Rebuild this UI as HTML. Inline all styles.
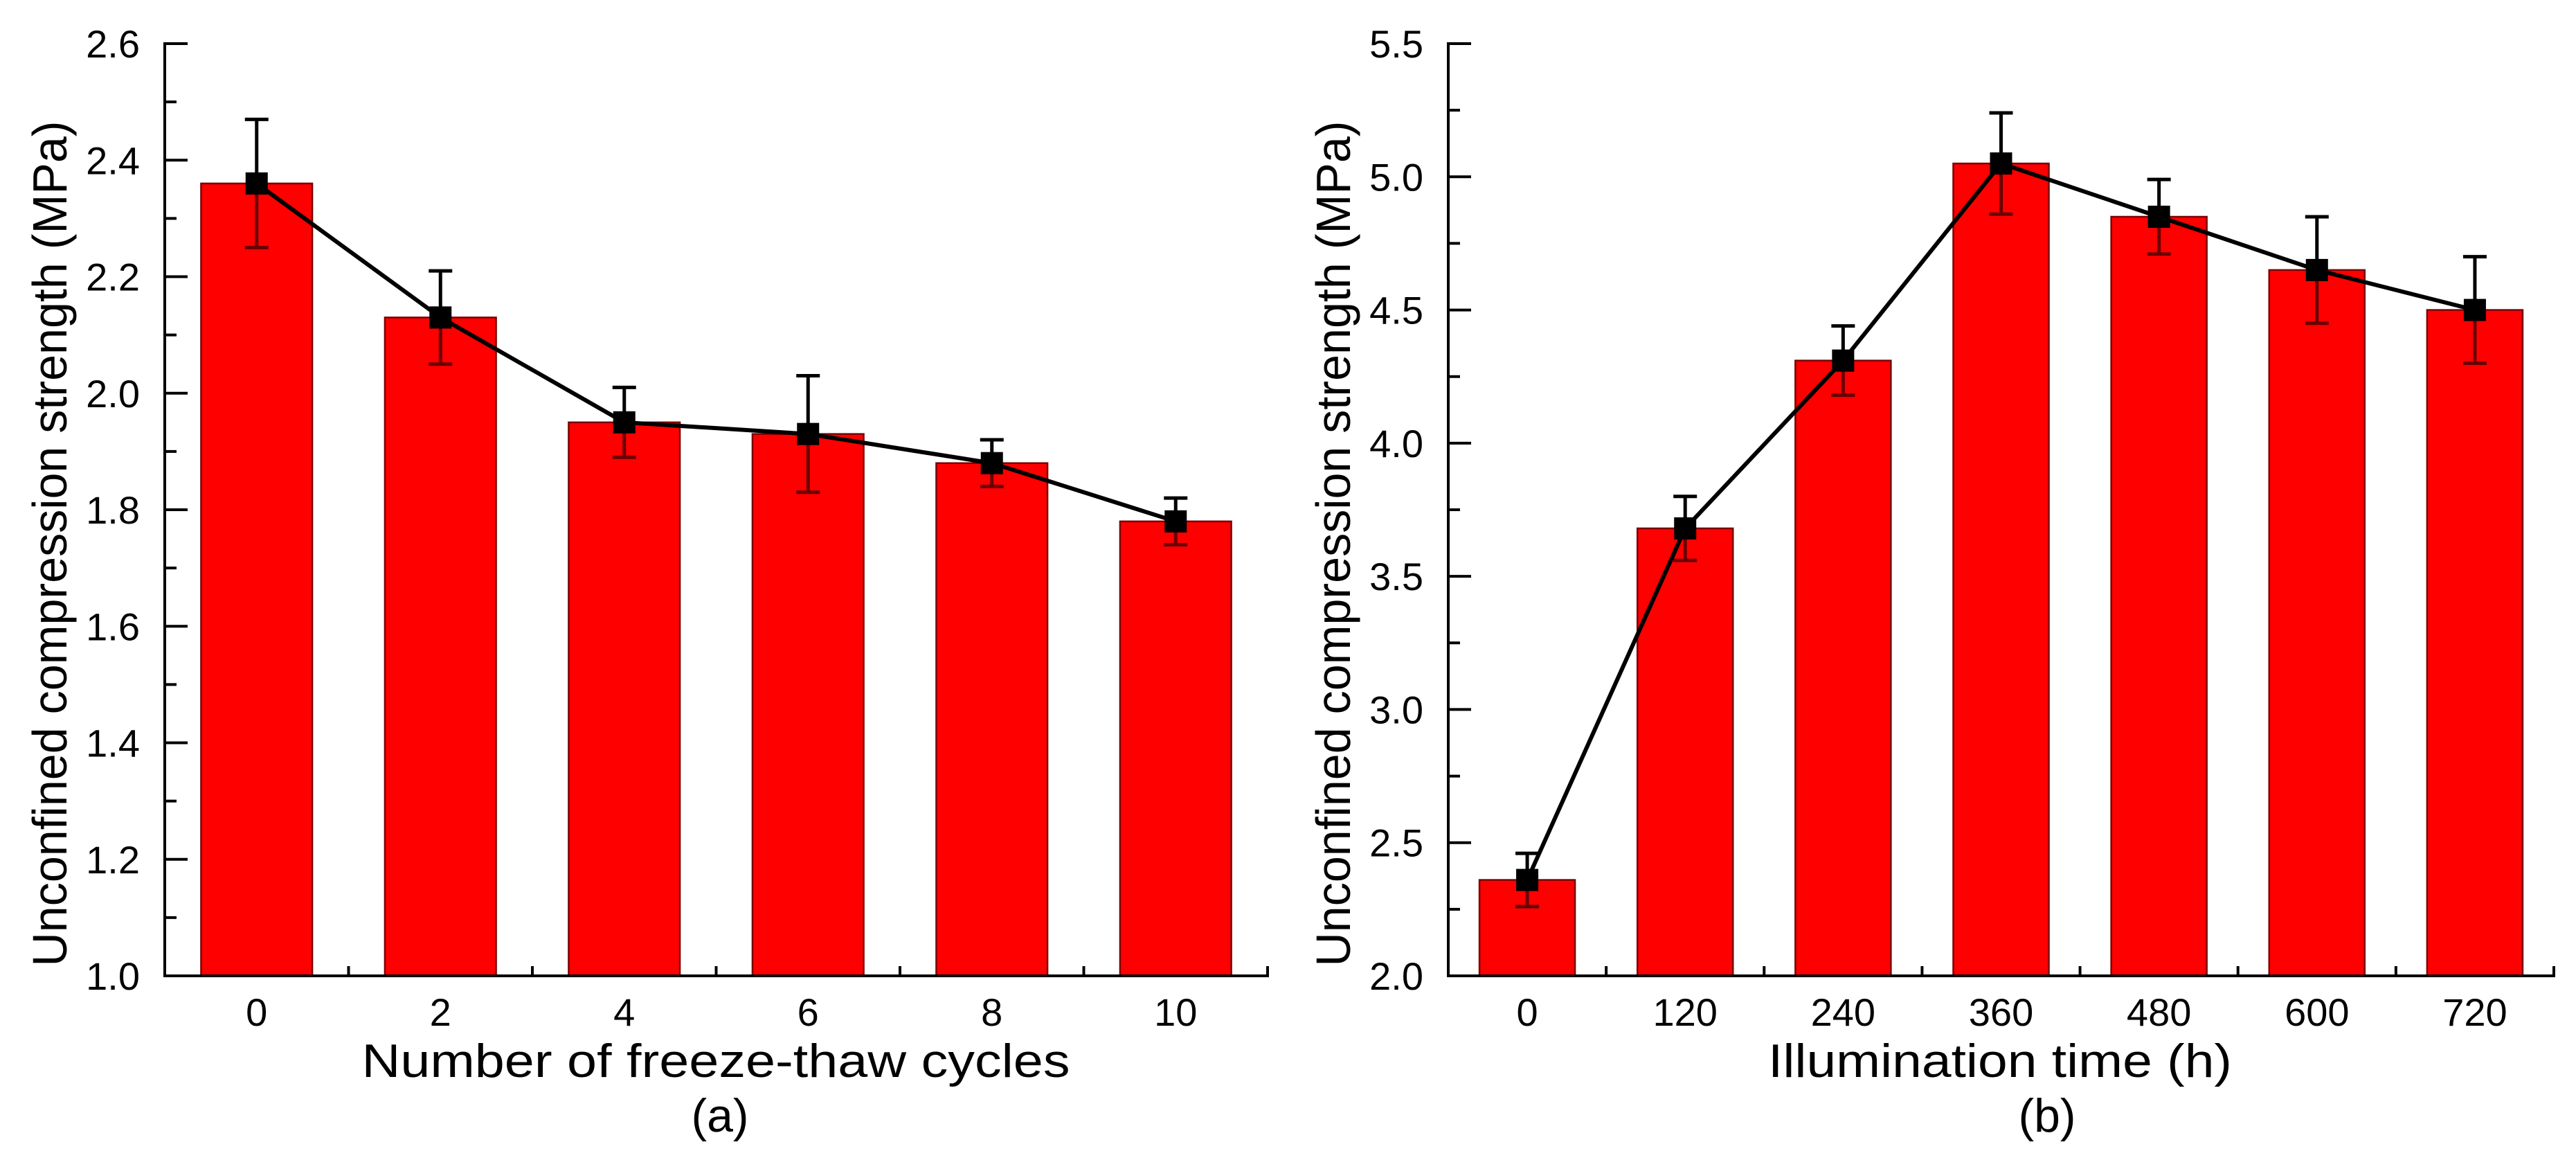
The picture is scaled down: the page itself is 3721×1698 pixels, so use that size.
<!DOCTYPE html>
<html><head><meta charset="utf-8"><style>
html,body{margin:0;padding:0;background:#fff;}
svg{display:block;}
text{font-family:"Liberation Sans",Arial,sans-serif;fill:#000;}
</style></head><body>
<svg id="fig" width="3721" height="1698" viewBox="0 0 3721 1698" xmlns="http://www.w3.org/2000/svg"></svg>
<script>
// Panel (a) data
const catsA = ["0","2","4","6","8","10"];
const valsA = [2.36,2.13,1.95,1.93,1.88,1.78];
const errsA = [0.11,0.08,0.06,0.10,0.04,0.04];
const yTicksA = [1.0,1.2,1.4,1.6,1.8,2.0,2.2,2.4,2.6];
// Panel (b) data
const catsB = ["0","120","240","360","480","600","720"];
const valsB = [2.36,3.68,4.31,5.05,4.85,4.65,4.50];
const errsB = [0.10,0.12,0.13,0.19,0.14,0.20,0.20];
const yTicksB = [2.0,2.5,3.0,3.5,4.0,4.5,5.0,5.5];

const NS="http://www.w3.org/2000/svg";
const svg=document.getElementById('fig');
function mk(tag,attrs,parent){const e=document.createElementNS(NS,tag);for(const k in attrs)e.setAttribute(k,attrs[k]);(parent||svg).appendChild(e);return e;}

function panel(cfg){
  const g=mk('g',{});
  
  
  const {x0,x1,yTop,yBot,yMin,yMax,cats,vals,errs,ticks,minor}=cfg;
  const n=cats.length, step=(x1-x0)/n;
  const xs=i=>x0+step*(i+0.5);
  const ys=v=>yBot-(v-yMin)/(yMax-yMin)*(yBot-yTop);
  const bw=step*0.605;
  cats.forEach((c,i)=>{
    const b=mk('rect',{x:xs(i)-bw/2,y:ys(vals[i]),width:bw,height:yBot-ys(vals[i]),fill:'#ff0000',stroke:'#7a0000','stroke-width':2.5},g);
    
    
  });
  cats.forEach((c,i)=>{
    const x=xs(i),lo=ys(vals[i]-errs[i]),hi=ys(vals[i]+errs[i]),m=ys(vals[i]);
    const eg=mk('g',{},g);
    
    
    mk('line',{x1:x,x2:x,y1:m,y2:lo,stroke:'#6a0000','stroke-width':5},eg);
    mk('line',{x1:x-17,x2:x+17,y1:lo,y2:lo,stroke:'#6a0000','stroke-width':5},eg);
    mk('line',{x1:x,x2:x,y1:m,y2:hi,stroke:'#000','stroke-width':5},eg);
    mk('line',{x1:x-17,x2:x+17,y1:hi,y2:hi,stroke:'#000','stroke-width':5},eg);
  });
  const pts=vals.map((v,i)=>xs(i)+','+ys(v)).join(' ');
  const pl=mk('polyline',{points:pts,fill:'none',stroke:'#000','stroke-width':6},g);
  
  
  cats.forEach((c,i)=>{
    const p=mk('rect',{x:xs(i)-16,y:ys(vals[i])-16,width:32,height:32,fill:'#000'},g);
    
    
  });
  const ax=mk('g',{},g);
  
  
  mk('line',{x1:x0,x2:x0,y1:yTop-2,y2:yBot+2,stroke:'#000','stroke-width':4},ax);
  mk('line',{x1:x0-2,x2:x1+2,y1:yBot,y2:yBot,stroke:'#000','stroke-width':4},ax);
  ticks.forEach((t,i)=>{
    const y=ys(t);
    mk('line',{x1:x0,x2:x0+33,y1:y,y2:y,stroke:'#000','stroke-width':4},ax);
    const tl=mk('text',{x:x0-36,y:y+20,'font-size':56,'text-anchor':'end'},ax);
    tl.textContent=t.toFixed(1);
    
    
    if(i<ticks.length-1){const ym=ys(t+minor);mk('line',{x1:x0,x2:x0+17,y1:ym,y2:ym,stroke:'#000','stroke-width':4},ax);}
  });
  for(let i=1;i<=n;i++){const x=x0+step*i;mk('line',{x1:x,x2:x,y1:yBot,y2:yBot-14,stroke:'#000','stroke-width':4},ax);}
  cats.forEach((c,i)=>{
    const tl=mk('text',{x:xs(i),y:1481,'font-size':56,'text-anchor':'middle'},ax);
    tl.textContent=c;
    
    
  });
  const xt=mk('text',{x:cfg.xtX,y:1555,'font-size':68,'text-anchor':'middle',textLength:cfg.xtLen,lengthAdjust:'spacingAndGlyphs'},g);
  xt.textContent=cfg.xtitle;
  
  
  const yt=mk('text',{x:0,y:0,'font-size':70,'text-anchor':'middle',textLength:1221,lengthAdjust:'spacingAndGlyphs',transform:'translate('+(cfg.ytX+25)+',785) rotate(-90)'},g);
  yt.textContent='Unconfined compression strength (MPa)';
  
  
  const pt=mk('text',{x:cfg.plX,y:1634,'font-size':68,'text-anchor':'middle'},g);
  pt.textContent=cfg.plabel;
  
  
}
panel({name:'chart-a-freeze-thaw',x0:238,x1:1831,yTop:63,yBot:1409,yMin:1.0,yMax:2.6,cats:catsA,vals:valsA,errs:errsA,ticks:yTicksA,minor:0.1,xtitle:'Number of freeze-thaw cycles',xtX:1034,xtLen:1023,ytX:71,plabel:'(a)',plX:1040});
panel({name:'chart-b-illumination',x0:2092,x1:3689,yTop:63,yBot:1409,yMin:2.0,yMax:5.5,cats:catsB,vals:valsB,errs:errsB,ticks:yTicksB,minor:0.25,xtitle:'Illumination time (h)',xtX:2889,xtLen:670,ytX:1925,plabel:'(b)',plX:2957});
</script>
</body></html>
